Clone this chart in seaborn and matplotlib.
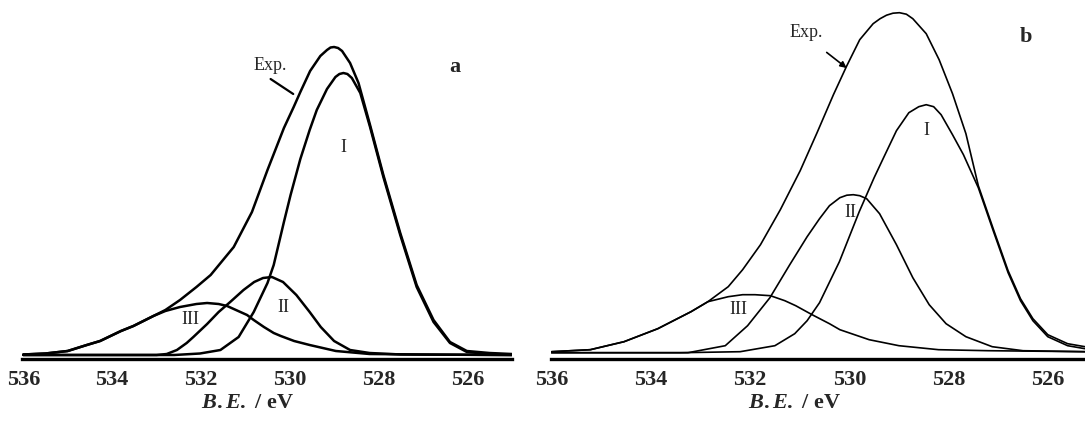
import numpy as np
import pandas as pd
import matplotlib
matplotlib.use("Agg")
import matplotlib.pyplot as plt
import seaborn as sns

# O 1s XPS, panel a (binding energy in eV, intensity in arbitrary units)
a_exp_be = [536.0, 535.5, 535.0, 534.57, 534.27, 533.8, 533.52, 533.07, 532.8, 532.47, 532.1, 531.78, 531.26,
            530.85, 530.5, 530.13, 529.91, 529.76, 529.54, 529.31, 529.16, 529.08, 529.0, 528.91, 528.82, 528.64,
            528.45, 528.19, 527.89, 527.51, 527.14, 526.76, 526.39, 526.01, 525.5, 525.0]
a_exp_int = [0.5, 1.5, 4, 10, 14, 24, 29, 39, 45, 55, 68, 80, 108, 143, 185, 227, 248, 263, 284, 299, 305, 307.5,
             308, 307, 304, 292, 272, 230, 180, 122, 70, 35, 13, 4, 2, 1]
a_i_be = [536.0, 532.6, 532.02, 531.56, 531.15, 530.81, 530.5, 530.36, 530.13, 529.98, 529.76, 529.55, 529.39,
          529.16, 528.97, 528.88, 528.79, 528.7, 528.6, 528.41, 528.19, 527.89, 527.51, 527.14, 526.76, 526.39,
          526.01, 525.5, 525.0]
a_i_int = [0, 0, 1.5, 5, 18, 43, 72, 90, 133, 160, 196, 225, 245, 266, 278, 281, 282, 281, 277, 262, 228, 178,
           120, 68, 33, 12, 3, 1, 0.5]
a_ii_be = [536.0, 533.0, 532.77, 532.54, 532.32, 532.17, 531.86, 531.6, 531.34, 531.04, 530.8, 530.6, 530.4,
           530.15, 529.85, 529.55, 529.3, 529.0, 528.64, 528.2, 527.5, 525.0]
a_ii_int = [0, 0, 1, 5, 12, 18, 31, 43, 53, 65, 73, 77, 78, 73, 60, 43, 28, 14, 5, 2, 0.5, 0]
a_iii_be = [536.0, 535.5, 535.0, 534.57, 534.27, 533.8, 533.52, 533.07, 532.8, 532.47, 532.1, 531.86, 531.6,
            531.41, 531.26, 530.96, 530.81, 530.58, 530.36, 530.2, 529.9, 529.55, 528.96, 528.2, 527.0, 525.0]
a_iii_int = [0.5, 1.5, 4, 10, 14, 24, 29, 39, 44, 48, 51, 52, 51, 49, 46, 40, 35, 28, 22, 19, 14, 10, 4, 1, 0.5, 0]

# panel b
b_exp_be = [536.0, 535.22, 534.54, 533.86, 533.19, 532.85, 532.44, 532.15, 531.79, 531.39, 530.99, 530.65,
            530.32, 530.05, 529.79, 529.52, 529.38, 529.25, 529.12, 528.99, 528.85, 528.72, 528.45, 528.19,
            527.92, 527.65, 527.4, 527.1, 526.8, 526.55, 526.3, 526.0, 525.6, 525.25]
b_exp_int = [1, 3, 11, 24, 41, 51, 66, 83, 108, 143, 182, 220, 258, 287, 313, 329, 334, 337.5, 339.5, 340, 338.5,
             334, 319, 293, 259, 219, 167, 124, 82, 54, 34, 18, 9, 6]
b_i_be = [536.0, 533.4, 532.2, 531.5, 531.1, 530.85, 530.6, 530.2, 529.8, 529.5, 529.3, 529.05, 528.8, 528.6,
          528.45, 528.3, 528.15, 527.92, 527.7, 527.4, 527.1, 526.8, 526.55, 526.3, 526.0, 525.6, 525.25]
b_i_int = [0, 0, 1, 7, 19, 32, 50, 91, 141, 175, 196, 222, 240, 246, 248, 246, 238, 218, 198, 165, 122, 80, 52,
           32, 16, 7, 4]
b_ii_be = [536.0, 533.25, 532.5, 532.05, 531.6, 531.2, 530.85, 530.6, 530.4, 530.19, 530.05, 529.92, 529.79,
           529.65, 529.39, 529.05, 528.72, 528.39, 528.05, 527.65, 527.12, 526.5, 525.25]
b_ii_int = [0, 0, 7, 27, 55, 88, 116, 134, 147, 155, 157.5, 158, 157, 154, 139, 108, 75, 48, 29, 16, 6, 2, 1]
b_iii_be = [536.0, 535.22, 534.54, 533.86, 533.19, 532.85, 532.44, 532.15, 531.9, 531.59, 531.3, 531.08, 530.75,
            530.4, 530.19, 529.6, 529.0, 528.2, 527.2, 525.25]
b_iii_int = [1, 3, 11, 24, 41, 51, 56, 58, 58, 57, 52, 47, 38, 29, 23, 13, 7, 3, 2, 1]

tick_vals = [536, 534, 532, 530, 528, 526]

sns.set_style("white")
plt.rcParams["font.family"] = ["Liberation Serif", "DejaVu Serif"]
plt.rcParams["mathtext.fontset"] = "custom"
plt.rcParams["mathtext.it"] = "Liberation Serif:italic:bold"
plt.rcParams["mathtext.rm"] = "Liberation Serif:bold"

W, H = 1085, 422
fig = plt.figure(figsize=(W / 100, H / 100), dpi=100)
# panel a: 44.4 px per eV, panel b: 49.6 px per eV (as measured on the original)
axa = fig.add_axes([22.4 / W, 63 / H, 11.02 * 44.4 / W, 354 / H])
axb = fig.add_axes([550.6 / W, 63 / H, (W - 550.6) / W, 354 / H])


def draw(ax, curves, lw, xmax, ylo, label_x):
    for be, inten in curves:
        df = pd.DataFrame({"be": be, "int": inten})
        sns.lineplot(data=df, x="be", y="int", ax=ax, color="black", lw=lw,
                     sort=False, estimator=None)
    ax.set_xlim(536.02, xmax)
    ax.set_ylim(ylo, ylo + 354)
    ax.set_yticks([])
    ax.set_xticks(tick_vals)
    ax.set_xticklabels([str(t) for t in tick_vals], fontsize=16, fontweight="bold")
    ax.tick_params(axis="x", direction="out", length=5, width=1.6, pad=3, color="black")
    for s in ["left", "right", "top"]:
        ax.spines[s].set_visible(False)
    ax.spines["bottom"].set_linewidth(2.4)
    ax.spines["bottom"].set_color("black")
    ax.set_ylabel("")
    ax.set_xlabel(r"$\mathit{B.E.}$ / eV", fontsize=16, fontweight="bold")
    ax.xaxis.set_label_coords(label_x, -0.095)


draw(axa, [(a_exp_be, a_exp_int), (a_i_be, a_i_int), (a_ii_be, a_ii_int), (a_iii_be, a_iii_int)],
     1.8, 525.0, -4, 0.461)
draw(axb, [(b_exp_be, b_exp_int), (b_i_be, b_i_int), (b_ii_be, b_ii_int), (b_iii_be, b_iii_int)],
     1.2, 525.25, -6.3, 0.456)

# labels panel a
axa.text(530.43, 290, "Exp.", fontsize=13, ha="center", va="center")
axa.plot([530.43, 529.92], [276, 261], color="black", lw=1.6, solid_capstyle="round")
axa.text(526.28, 288, "a", fontsize=16, fontweight="bold", ha="center", va="center")
axa.text(528.79, 208, "I", fontsize=13, ha="center", va="center")
axa.text(530.15, 47, "II", fontsize=13, ha="center", va="center")
axa.text(532.24, 36, "III", fontsize=13, ha="center", va="center")

# labels panel b
axb.text(530.86, 320, "Exp.", fontsize=13, ha="center", va="center")
axb.annotate("", xy=(530.01, 283), xytext=(530.5, 302),
             arrowprops=dict(arrowstyle="-|>", color="black", lw=1.2, mutation_scale=9))
axb.text(526.45, 316, "b", fontsize=16, fontweight="bold", ha="center", va="center")
axb.text(528.44, 222, "I", fontsize=13, ha="center", va="center")
axb.text(529.98, 140, "II", fontsize=13, ha="center", va="center")
axb.text(532.24, 43, "III", fontsize=13, ha="center", va="center")

fig.savefig("out.png", dpi=100)
